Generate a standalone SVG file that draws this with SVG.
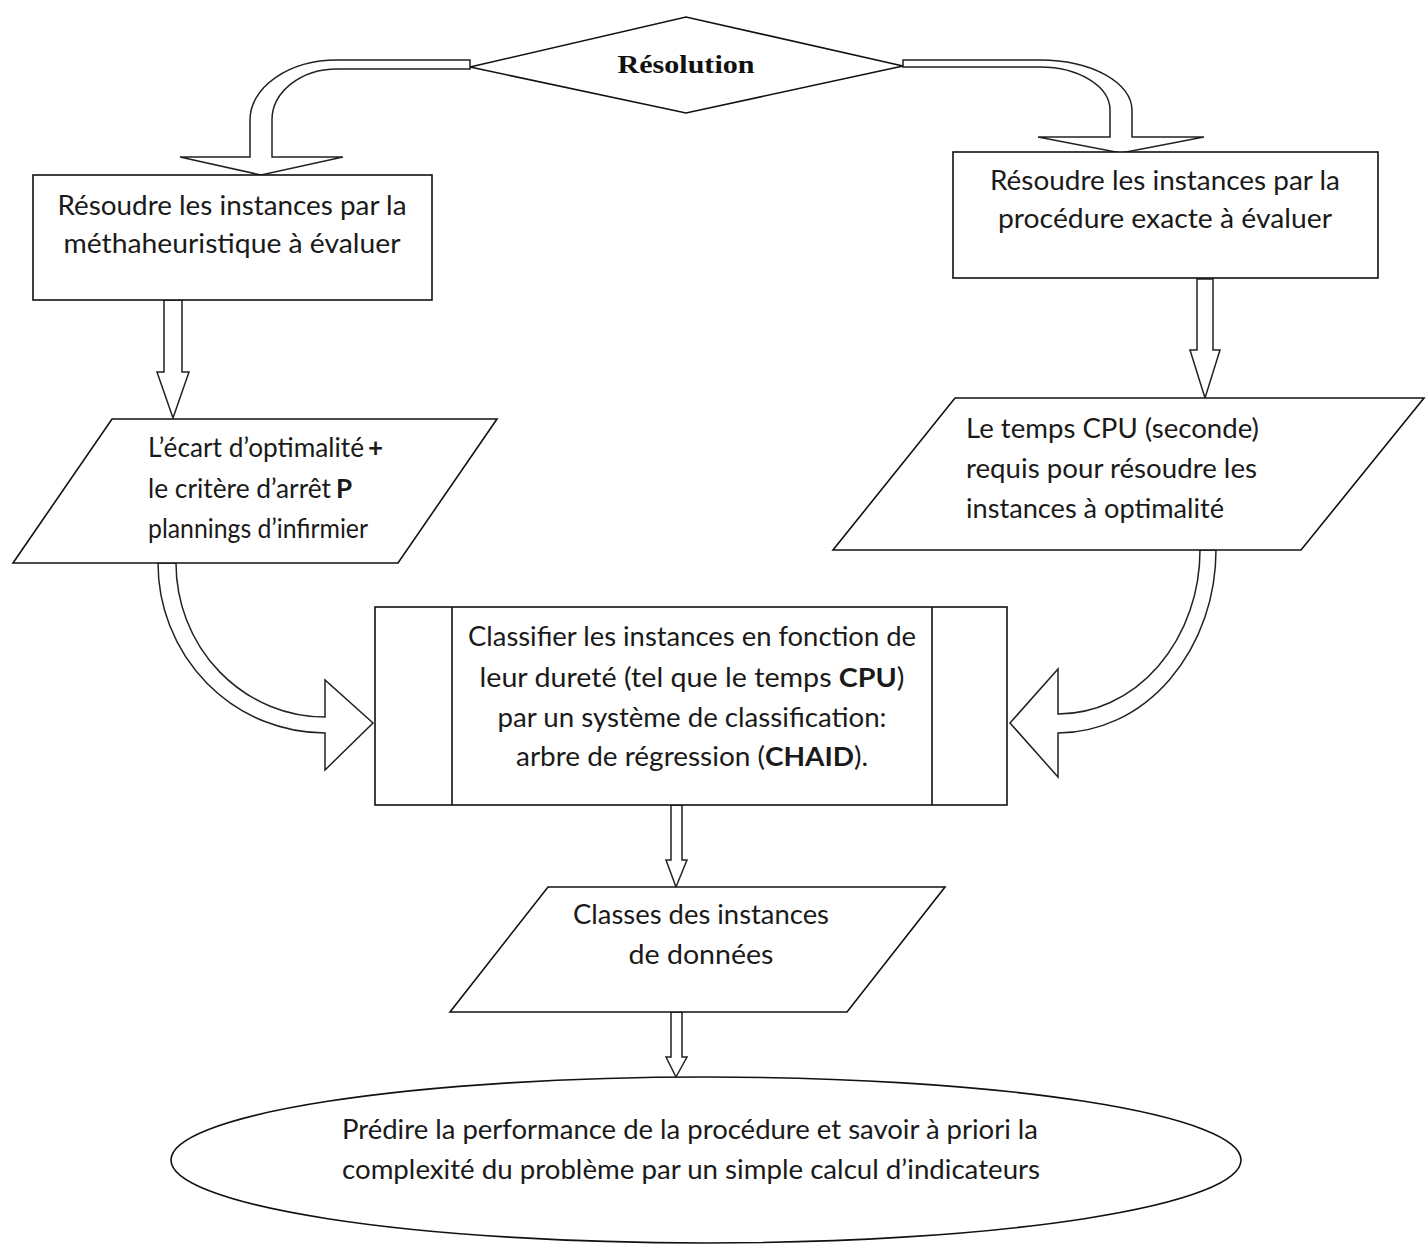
<svg xmlns="http://www.w3.org/2000/svg" width="1426" height="1245" viewBox="0 0 1426 1245">
<style>
.s{fill:#fff;stroke:#111;stroke-width:1.6;stroke-linejoin:miter}
.a{fill:#fff;stroke:#222;stroke-width:1.5;stroke-linejoin:miter}
.t{font-family:Lato,"Noto Sans","Liberation Sans",sans-serif;font-size:26px;fill:#1a1a1a}
.c{text-anchor:middle}
.b{font-weight:bold}
.r{font-family:"Liberation Serif","Times New Roman",serif;font-size:26px;font-weight:bold;fill:#111;text-anchor:middle}
</style>
<rect width="1426" height="1245" fill="#fff"/>
<g id="connectors">
<path class="a" d="M470,60 L337,60 A87,60 0 0 0 250,120 L250,157 L180,157 L261,175 L343,157 L272,157 L272,120 A65,51 0 0 1 337,69 L470,69 Z"/>
<path class="a" d="M903,60 L1040,60 A92,50 0 0 1 1132,110 L1132,137 L1204,137 L1121,153 L1038,137 L1110,137 L1110,110 A70,43 0 0 0 1040,67 L903,67 Z"/>
<path class="a" d="M164,300 L164,372 L157,372 L173,418 L189,372 L182,372 L182,300 Z"/>
<path class="a" d="M1197,279 L1197,350 L1190,350 L1205,398 L1220,350 L1213,350 L1213,279 Z"/>
<path class="a" d="M158,563 A167,170 0 0 0 325,733 L325,770 L373,723 L325,680 L325,717 A149,154 0 0 1 176,563 Z"/>
<path class="a" d="M1216,550 A158,183 0 0 1 1058,733 L1058,777 L1010,723 L1058,669 L1058,714 A142,164 0 0 0 1200,550 Z"/>
<path class="a" d="M671,805 L671,860 L666,860 L676,887 L687,860 L682,860 L682,805 Z"/>
<path class="a" d="M671,1012 L671,1057 L666,1057 L676,1077 L687,1057 L682,1057 L682,1012 Z"/>
</g>
<g id="resolution">
<polygon class="s" points="470,67 686,17 903,66 686,113"/>
<text class="r" x="686" y="73" textLength="137" lengthAdjust="spacingAndGlyphs">Résolution</text>
</g>
<g id="metaheuristique">
<rect class="s" x="33" y="175" width="399" height="125"/>
<text class="t c" x="232" y="215" textLength="349" lengthAdjust="spacingAndGlyphs">Résoudre les instances par la</text>
<text class="t c" x="232" y="253" textLength="337" lengthAdjust="spacingAndGlyphs">méthaheuristique à évaluer</text>
</g>
<g id="exacte">
<rect class="s" x="953" y="152" width="425" height="126"/>
<text class="t c" x="1165" y="190" textLength="350" lengthAdjust="spacingAndGlyphs">Résoudre les instances par la</text>
<text class="t c" x="1165" y="228" textLength="334" lengthAdjust="spacingAndGlyphs">procédure exacte à évaluer</text>
</g>
<g id="ecart">
<polygon class="s" points="112,419 497,419 398,563 13,563"/>
<text class="t" x="148" y="457" textLength="216" lengthAdjust="spacingAndGlyphs">L’écart d’optimalité</text>
<text class="t b" x="368" y="457">+</text>
<text class="t" x="148" y="498" textLength="183" lengthAdjust="spacingAndGlyphs">le critère d’arrêt</text>
<text class="t b" x="336" y="498">P</text>
<text class="t" x="148" y="538" textLength="220" lengthAdjust="spacingAndGlyphs">plannings d’infirmier</text>
</g>
<g id="tempscpu">
<polygon class="s" points="955,398 1424,398 1301,550 833,550"/>
<text class="t" x="966" y="438" textLength="293" lengthAdjust="spacingAndGlyphs">Le temps CPU (seconde)</text>
<text class="t" x="966" y="478" textLength="291" lengthAdjust="spacingAndGlyphs">requis pour résoudre les</text>
<text class="t" x="966" y="518" textLength="258" lengthAdjust="spacingAndGlyphs">instances à optimalité</text>
</g>
<g id="classifier">
<rect class="s" x="375" y="607" width="632" height="198"/>
<line class="s" x1="452" y1="607" x2="452" y2="805"/>
<line class="s" x1="932" y1="607" x2="932" y2="805"/>
<text class="t c" x="692" y="646" textLength="448" lengthAdjust="spacingAndGlyphs">Classifier les instances en fonction de</text>
<text class="t c" x="692" y="687" textLength="425" lengthAdjust="spacingAndGlyphs">leur dureté (tel que le temps <tspan class="b">CPU</tspan>)</text>
<text class="t c" x="692" y="727" textLength="389" lengthAdjust="spacingAndGlyphs">par un système de classification:</text>
<text class="t c" x="692" y="766" textLength="352" lengthAdjust="spacingAndGlyphs">arbre de régression (<tspan class="b">CHAID</tspan>).</text>
</g>
<g id="classes">
<polygon class="s" points="548,887 945,887 847,1012 450,1012"/>
<text class="t c" x="701" y="924" textLength="256" lengthAdjust="spacingAndGlyphs">Classes des instances</text>
<text class="t c" x="701" y="964" textLength="145" lengthAdjust="spacingAndGlyphs">de données</text>
</g>
<g id="predire">
<ellipse class="s" cx="706" cy="1160" rx="535" ry="83"/>
<text class="t c" x="690" y="1139" textLength="696" lengthAdjust="spacingAndGlyphs">Prédire la performance de la procédure et savoir à priori la</text>
<text class="t c" x="691" y="1179" textLength="698" lengthAdjust="spacingAndGlyphs">complexité du problème par un simple calcul d’indicateurs</text>
</g>
</svg>
